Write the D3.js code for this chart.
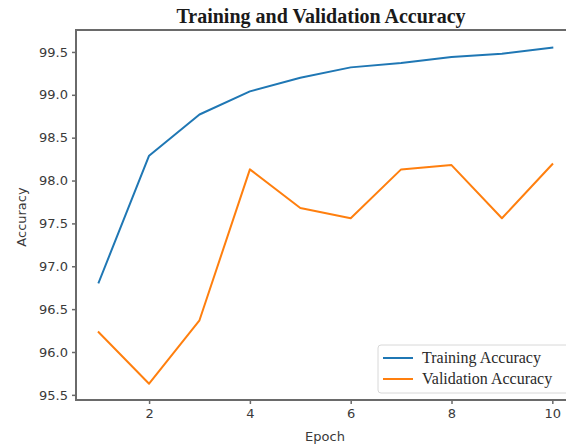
<!DOCTYPE html>
<html>
<head>
<meta charset="utf-8">
<script src="https://cdn.jsdelivr.net/npm/d3@7"></script>
<style>
html,body{margin:0;padding:0;background:#fff;overflow:hidden;}
svg{display:block;}
</style>
</head>
<body>
<svg id="chart" width="566" height="448"></svg>
<script>
const epochs = [1,2,3,4,5,6,7,8,9,10];
const trainingAccuracy = [96.81, 98.29, 98.77, 99.04, 99.20, 99.32, 99.37, 99.44, 99.48, 99.55];
const validationAccuracy = [96.23, 95.63, 96.37, 98.13, 97.68, 97.56, 98.13, 98.18, 97.56, 98.19];
const xTicks = [2,4,6,8,10];
const yTicks = [95.5, 96.0, 96.5, 97.0, 97.5, 98.0, 98.5, 99.0, 99.5];
const seriesNames = ["Training Accuracy", "Validation Accuracy"];
const seriesColors = ["#1f77b4", "#ff7f0e"];

const svg = d3.select("#chart");
const mLeft = 76, mRight = 575, mTop = 30, mBottom = 400;

const x = d3.scaleLinear().domain([0.55, 10.45]).range([mLeft, mRight]);
const y = d3.scaleLinear().domain([95.44, 99.756]).range([mBottom, mTop]);

const sansFont = "'DejaVu Sans', sans-serif";
const serifFont = "'Liberation Serif', 'Times New Roman', serif";
const spineColor = "#6a6a6a";

// lines
const line = d3.line().x((d,i) => x(epochs[i])).y(d => y(d));
[trainingAccuracy, validationAccuracy].forEach((s, k) => {
  svg.append("path").datum(s)
    .attr("d", line)
    .attr("fill", "none")
    .attr("stroke", seriesColors[k])
    .attr("stroke-width", 2)
    .attr("stroke-linejoin", "round")
    .attr("stroke-linecap", "square");
});

// axes
const xAxis = d3.axisBottom(x).tickValues(xTicks).tickFormat(d3.format("d")).tickSize(4).tickPadding(5);
const yAxis = d3.axisLeft(y).tickValues(yTicks).tickFormat(d3.format(".1f")).tickSize(4).tickPadding(4);

const gx = svg.append("g").attr("transform", `translate(0,${mBottom})`).call(xAxis);
const gy = svg.append("g").attr("transform", `translate(${mLeft},0)`).call(yAxis);
[gx, gy].forEach(g => {
  g.select(".domain").remove();
  g.selectAll(".tick line").attr("stroke", spineColor).attr("stroke-width", 1.5);
  g.selectAll(".tick text").attr("fill", "#3a3a3a").style("font-family", sansFont).style("font-size", "13px");
});

// spines
svg.append("rect")
  .attr("x", mLeft).attr("y", mTop)
  .attr("width", mRight - mLeft).attr("height", mBottom - mTop)
  .attr("fill", "none").attr("stroke", spineColor).attr("stroke-width", 2);

// title
svg.append("text")
  .attr("x", 321).attr("y", 23)
  .attr("text-anchor", "middle")
  .style("font-family", serifFont).style("font-weight", "bold").style("font-size", "20px")
  .attr("fill", "#1a1a1a")
  .text("Training and Validation Accuracy");

// axis labels
svg.append("text")
  .attr("x", 325).attr("y", 441)
  .attr("text-anchor", "middle")
  .style("font-family", sansFont).style("font-size", "13px")
  .attr("fill", "#3a3a3a")
  .text("Epoch");
svg.append("text")
  .attr("transform", "translate(26,217) rotate(-90)")
  .attr("text-anchor", "middle")
  .style("font-family", sansFont).style("font-size", "13px")
  .attr("fill", "#3a3a3a")
  .text("Accuracy");

// legend
const lg = svg.append("g").attr("transform", "translate(378,345)");
lg.append("rect").attr("x", 0).attr("y", 0).attr("width", 200).attr("height", 48)
  .attr("rx", 3).attr("fill", "#fff").attr("fill-opacity", 0.8)
  .attr("stroke", "#d8d8d8").attr("stroke-width", 1);
seriesNames.forEach((name, i) => {
  const yy = 13 + i * 21;
  lg.append("line").attr("x1", 5).attr("x2", 35).attr("y1", yy).attr("y2", yy)
    .attr("stroke", seriesColors[i]).attr("stroke-width", 2);
  lg.append("text").attr("x", 44).attr("y", yy + 5)
    .style("font-family", serifFont).style("font-size", "16px")
    .attr("fill", "#2a2a2a")
    .text(name);
});
</script>
</body>
</html>
